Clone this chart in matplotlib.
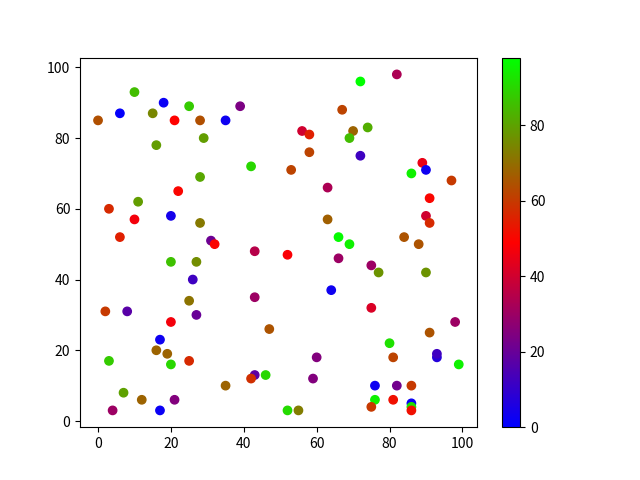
import matplotlib
matplotlib.use("Agg")
import matplotlib.pyplot as plt

plt.rcParams['font.family'] = ['Noto Sans CJK SC', 'DejaVu Sans']

x = [0, 6, 10, 15, 18, 25, 21, 28, 35, 39,
     16, 29, 42, 28, 11, 3, 22, 10, 6, 20,
     28, 31, 32, 20, 27, 26, 43, 25, 43, 2,
     8, 27, 20, 47, 17, 16, 19, 3, 20, 25,
     43, 42, 46, 7, 12, 21, 4, 17, 35, 52,
     55, 72, 82, 67, 56, 58, 70, 74, 69, 58,
     53, 72, 63, 89, 90, 86, 97, 91, 63, 90,
     91, 66, 69, 52, 66, 84, 88, 75, 77, 90,
     64, 75, 98, 91, 93, 93, 99, 80, 60, 59,
     81, 76, 82, 86, 76, 81, 75, 86, 86, 86]
y = [85, 87, 93, 87, 90, 89, 85, 85, 85, 89,
     78, 80, 72, 69, 62, 60, 65, 57, 52, 58,
     56, 51, 50, 45, 45, 40, 48, 34, 35, 31,
     31, 30, 28, 26, 23, 20, 19, 17, 16, 17,
     13, 12, 13, 8, 6, 6, 3, 3, 10, 3,
     3, 96, 98, 88, 82, 81, 82, 83, 80, 76,
     71, 75, 66, 73, 71, 70, 68, 63, 57, 58,
     56, 52, 50, 47, 46, 52, 50, 44, 42, 42,
     37, 32, 28, 25, 18, 19, 16, 22, 18, 12,
     18, 10, 10, 10, 6, 6, 4, 5, 4, 3]
colors = [64, 1, 85, 75, 2, 88, 49, 64, 3, 24,
          79, 79, 90, 81, 79, 57, 50, 47, 55, 4,
          72, 21, 50, 86, 76, 12, 35, 71, 30, 60,
          17, 20, 47, 65, 3, 68, 68, 88, 90, 57,
          18, 58, 90, 80, 68, 25, 30, 2, 68, 91,
          73, 98, 33, 62, 40, 55, 68, 82, 85, 62,
          62, 12, 33, 45, 3, 95, 60, 50, 67, 40,
          57, 97, 95, 48, 30, 65, 65, 30, 77, 77,
          3, 42, 30, 65, 7, 12, 95, 92, 25, 25,
          62, 3, 22, 60, 95, 52, 60, 2, 92, 52]

plt.figure(figsize=(6.4, 4.8), dpi=100)
plt.scatter(x, y, c=colors, cmap='brg', vmin=0, vmax=98)
plt.colorbar()
plt.savefig('out.png')
